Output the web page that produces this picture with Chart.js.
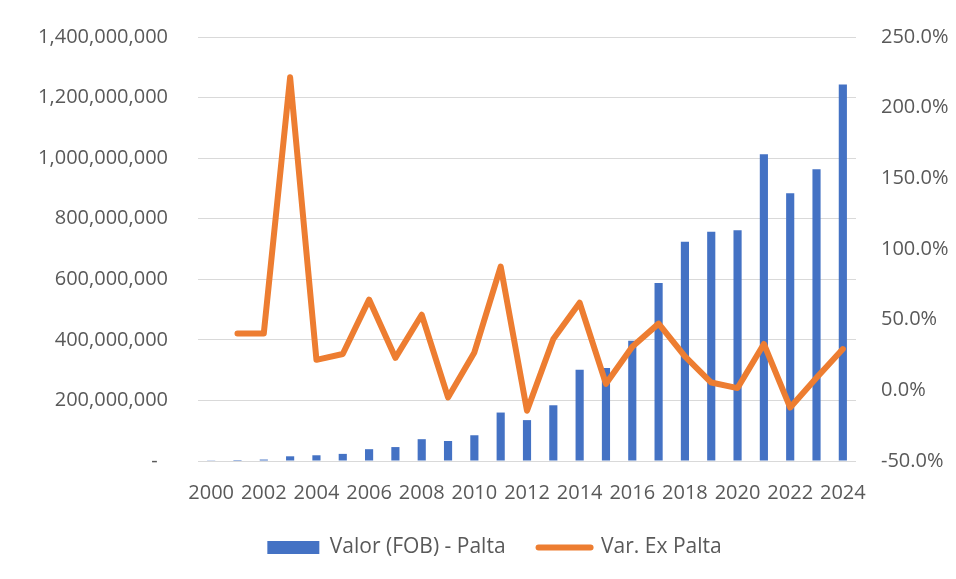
<!DOCTYPE html>
<html>
<head>
<meta charset="utf-8">
<script src="https://cdn.jsdelivr.net/npm/chart.js@4.4.1/dist/chart.umd.min.js"></script>
<style>
  html, body { margin: 0; padding: 0; background: #ffffff; }
  #wrap { width: 956px; height: 579px; }
</style>
</head>
<body>
<div id="wrap"><canvas id="c" width="956" height="579"></canvas></div>
<script>
const years = ['2000','2001','2002','2003','2004','2005','2006','2007','2008','2009','2010','2011','2012','2013','2014','2015','2016','2017','2018','2019','2020','2021','2022','2023','2024'];
const fobValues = [2.4e6, 3.4e6, 4.8e6, 15.5e6, 18.9e6, 23.5e6, 39e6, 46e6, 72e6, 66e6, 85e6, 160e6, 135e6, 184e6, 301e6, 307e6, 397e6, 588e6, 724e6, 757e6, 762e6, 1013e6, 884e6, 963e6, 1243e6];
const varValues = [null, 40.3, 40.3, 221.5, 21.6, 25.7, 64.2, 23.0, 53.5, -5.0, 26.8, 87.6, -14.5, 36.3, 62.0, 4.6, 30.9, 47.2, 24.0, 5.5, 1.6, 32.8, -12.2, 8.9, 29.2];
const seriesNames = ['Valor (FOB) - Palta', 'Var. Ex Palta'];

const BLUE = '#4472C4';
const ORANGE = '#ED7D31';
const TXT = '#595959';
const GRID = '#D9D9D9';
const FONT = "'Open Sans', 'Noto Sans', sans-serif";

new Chart(document.getElementById('c'), {
  data: {
    labels: years,
    datasets: [
      {
        type: 'bar',
        label: seriesNames[0],
        data: fobValues,
        yAxisID: 'y',
        backgroundColor: BLUE,
        borderWidth: 0,
        barPercentage: 0.31,
        categoryPercentage: 1.0,
        order: 1
      },
      {
        type: 'line',
        label: seriesNames[1],
        data: varValues,
        yAxisID: 'y1',
        borderColor: ORANGE,
        backgroundColor: ORANGE,
        borderWidth: 6,
        borderJoinStyle: 'round',
        borderCapStyle: 'round',
        pointRadius: 0,
        tension: 0,
        spanGaps: false,
        order: 0
      }
    ]
  },
  options: {
    responsive: false,
    animation: false,
    devicePixelRatio: 1,
    layout: { padding: { top: 37, left: 33, right: 0, bottom: 11 } },
    plugins: {
      tooltip: { enabled: false },
      legend: {
        position: 'bottom',
        labels: {
          color: TXT,
          font: { family: FONT, size: 21 },
          usePointStyle: true,
          pointStyleWidth: 52,
          boxHeight: 13,
          padding: 33,
          generateLabels: function(chart) {
            const items = Chart.defaults.plugins.legend.labels.generateLabels(chart);
            items.sort((a, b) => a.datasetIndex - b.datasetIndex);
            items.forEach(it => {
              if (it.datasetIndex === 0) {
                it.pointStyle = 'rect';
                it.lineWidth = 0;
                it.fillStyle = BLUE;
                it.strokeStyle = BLUE;
              } else {
                it.pointStyle = 'line';
                it.lineWidth = 6;
                it.lineCap = 'round';
                it.strokeStyle = ORANGE;
                it.fillStyle = ORANGE;
              }
            });
            return items;
          }
        }
      }
    },
    scales: {
      x: {
        offset: true,
        grid: { display: false, drawTicks: false },
        border: { display: false },
        ticks: {
          color: TXT,
          font: { family: FONT, size: 20 },
          autoSkip: false,
          maxRotation: 0,
          minRotation: 0,
          padding: 20,
          callback: function(v, i) { return i % 2 === 0 ? years[i] : ''; }
        },
        afterFit: function(s) { s.height = 43; }
      },
      y: {
        position: 'left',
        min: 0,
        max: 1400000000,
        grid: { color: GRID, lineWidth: 1, drawTicks: false },
        border: { display: false },
        ticks: {
          stepSize: 200000000,
          color: TXT,
          font: { family: FONT, size: 20 },
          padding: 30,
          callback: function(v) { return v === 0 ? '-  ' : Number(v).toLocaleString('en-US'); }
        },
        afterFit: function(s) { s.width = 165; s.paddingTop = 0; s.paddingBottom = 0; }
      },
      y1: {
        position: 'right',
        min: -50,
        max: 250,
        grid: { display: false, drawOnChartArea: false, drawTicks: false },
        border: { display: false },
        ticks: {
          stepSize: 50,
          color: TXT,
          font: { family: FONT, size: 20 },
          padding: 25,
          callback: function(v) { return Number(v).toFixed(1) + '%'; }
        },
        afterFit: function(s) { s.width = 100; s.paddingTop = 0; s.paddingBottom = 0; }
      }
    }
  }
});
</script>
</body>
</html>
